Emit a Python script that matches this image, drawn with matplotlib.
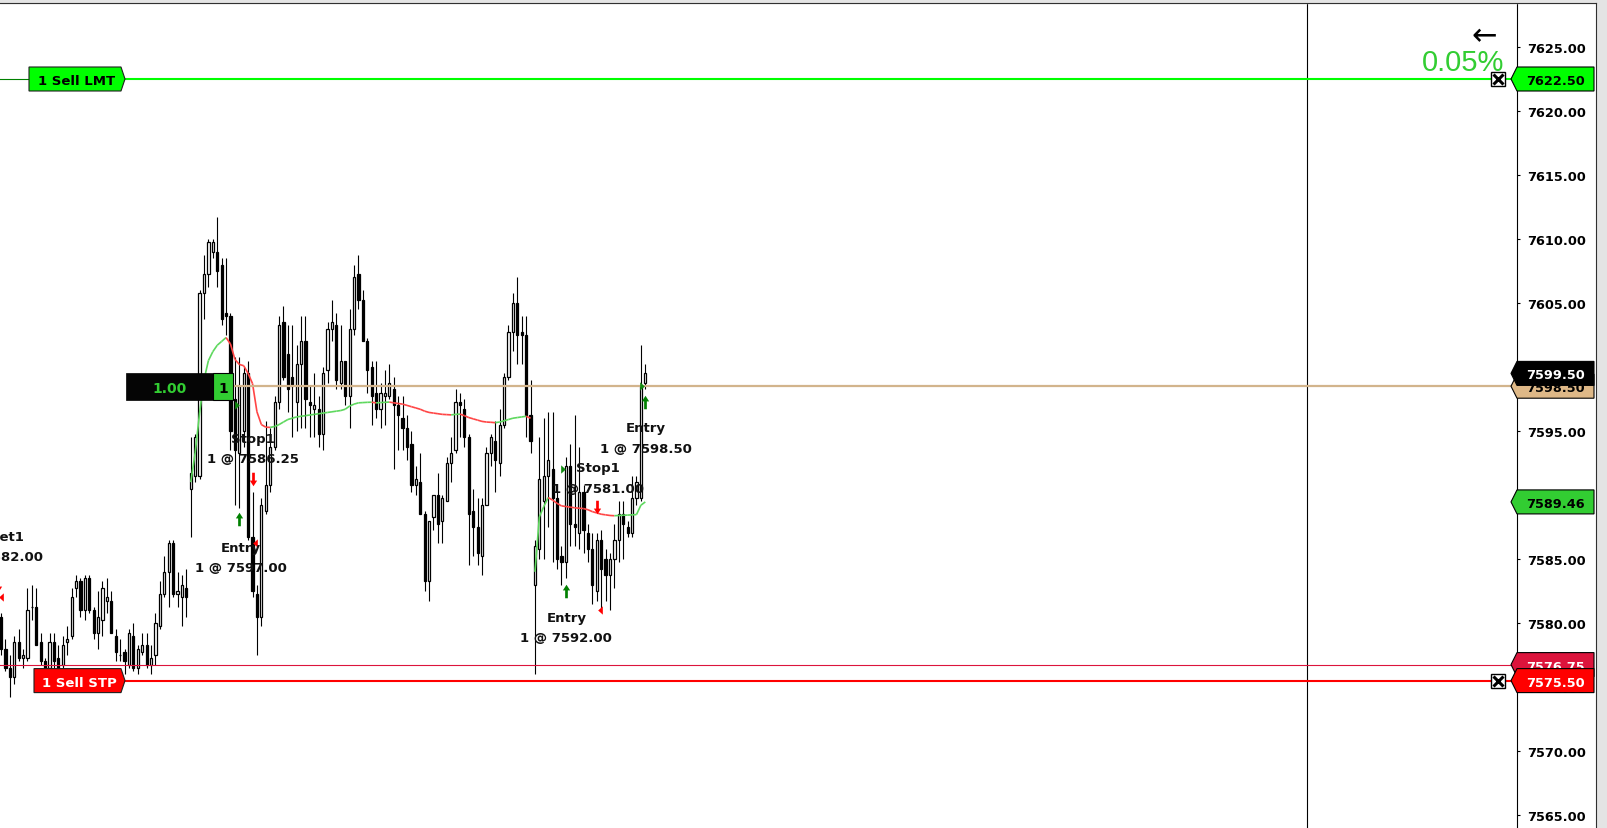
import matplotlib
matplotlib.use("Agg")
import matplotlib.pyplot as plt
import matplotlib.transforms as mtransforms
from matplotlib.collections import LineCollection
from matplotlib.patches import Polygon, Rectangle
from matplotlib.lines import Line2D
import numpy as np

# ======================= DATA ==========================
opens = [
    7580.5, 7578.0, 7576.5, 7575.75, 7578.5, 7577.25, 7577.25, 7581.25, 7581.25, 7578.5,
    7577.0, 7576.5, 7578.5, 7577.25, 7576.75, 7578.5, 7579.0, 7582.75, 7583.25, 7581.0,
    7583.5, 7581.0, 7579.25, 7580.25, 7581.75, 7581.75, 7579.0, 7577.5, 7577.75, 7576.75,
    7579.0, 7576.5, 7577.75, 7578.25, 7576.75, 7577.5, 7579.75, 7582.25, 7584.0, 7586.25,
    7582.25, 7582.0, 7582.75, 7590.5, 7591.5, 7591.5, 7605.75, 7607.25, 7609.0, 7609.0,
    7608.0, 7604.25, 7604.0, 7597.5, 7593.25, 7595.0, 7599.5, 7586.75, 7582.25, 7580.5,
    7588.75, 7590.75, 7593.75, 7597.25, 7603.5, 7601.0, 7599.25, 7597.25, 7600.25, 7602.0,
    7597.25, 7596.75, 7596.75, 7594.75, 7599.75, 7603.0, 7603.25, 7598.75, 7600.5, 7597.75,
    7603.0, 7607.25, 7605.25, 7602.0, 7600.0, 7598.0, 7596.75, 7597.75, 7597.75, 7598.25,
    7597.0, 7596.0, 7595.25, 7594.0, 7590.75, 7591.0, 7588.5, 7583.25, 7588.25, 7590.0,
    7588.0, 7589.5, 7592.5, 7593.5, 7597.25, 7596.75, 7594.5, 7588.75, 7587.5, 7585.25,
    7589.25, 7593.25, 7594.25, 7592.5, 7595.5, 7599.25, 7602.75, 7605.0, 7602.75, 7602.5,
    7596.25, 7583.0, 7585.75, 7589.5, 7591.5, 7592.0, 7589.75, 7585.25, 7584.75, 7592.25,
    7587.75, 7587.0, 7590.25, 7587.0, 7585.75, 7582.5, 7586.5, 7585.0, 7583.75, 7585.0,
    7586.5, 7588.5, 7587.5, 7587.0, 7589.75, 7589.75, 7598.75,
]
highs = [
    7580.75, 7578.75, 7577.5, 7579.0, 7579.5, 7578.0, 7582.75, 7583.0, 7582.75, 7579.25,
    7577.25, 7579.25, 7579.25, 7578.25, 7579.0, 7579.75, 7582.75, 7583.75, 7583.5, 7583.75,
    7583.75, 7581.25, 7582.5, 7583.25, 7583.5, 7582.5, 7579.5, 7578.75, 7578.0, 7579.5,
    7580.0, 7578.25, 7579.25, 7579.25, 7578.25, 7580.75, 7583.25, 7585.25, 7586.5, 7586.5,
    7584.0, 7583.75, 7584.25, 7594.5, 7594.75, 7606.0, 7608.75, 7610.0, 7610.0, 7611.75,
    7608.5, 7608.5, 7604.25, 7600.75, 7600.75, 7600.0, 7600.5, 7590.25, 7583.0, 7589.75,
    7595.75, 7595.25, 7597.75, 7604.0, 7604.75, 7603.25, 7603.25, 7601.75, 7604.0, 7604.0,
    7598.5, 7599.5, 7597.75, 7600.0, 7603.5, 7605.25, 7604.25, 7603.25, 7600.5, 7604.5,
    7608.0, 7608.75, 7606.0, 7602.25, 7600.5, 7600.5, 7598.75, 7599.75, 7600.25, 7599.25,
    7597.75, 7597.75, 7596.25, 7595.0, 7592.25, 7593.25, 7588.75, 7588.0, 7590.0, 7591.75,
    7590.0, 7593.0, 7594.5, 7598.25, 7598.0, 7597.5, 7594.75, 7590.5, 7589.75, 7589.75,
    7593.75, 7594.75, 7595.75, 7596.75, 7599.5, 7603.25, 7605.75, 7607.0, 7604.0, 7604.0,
    7599.0, 7586.5, 7594.5, 7596.0, 7596.5, 7596.5, 7590.25, 7586.0, 7593.0, 7594.0,
    7596.25, 7593.75, 7590.75, 7587.75, 7587.0, 7587.0, 7587.25, 7585.75, 7585.5, 7587.75,
    7589.5, 7589.5, 7588.0, 7591.5, 7591.5, 7601.75, 7600.25,
]
lows = [
    7577.5, 7576.25, 7574.25, 7575.25, 7577.0, 7576.5, 7577.0, 7580.25, 7578.25, 7576.75,
    7576.25, 7576.25, 7576.5, 7576.25, 7576.5, 7577.5, 7578.75, 7582.0, 7580.5, 7580.25,
    7580.75, 7578.75, 7578.0, 7579.0, 7580.75, 7579.25, 7577.0, 7577.0, 7576.0, 7576.5,
    7576.25, 7576.0, 7577.5, 7576.5, 7576.0, 7576.75, 7579.5, 7582.0, 7581.25, 7582.0,
    7581.25, 7579.75, 7580.5, 7586.75, 7591.0, 7591.25, 7603.75, 7606.25, 7608.5, 7606.25,
    7603.25, 7602.5, 7593.5, 7589.25, 7589.0, 7593.75, 7586.5, 7582.0, 7577.5, 7579.75,
    7588.5, 7590.25, 7593.5, 7596.75, 7599.0, 7596.5, 7594.5, 7595.0, 7595.25, 7595.25,
    7594.5, 7594.5, 7593.75, 7593.5, 7598.75, 7602.0, 7598.25, 7598.25, 7597.0, 7595.25,
    7602.5, 7604.5, 7602.0, 7598.0, 7595.5, 7596.0, 7595.25, 7595.5, 7597.5, 7592.0,
    7593.5, 7593.5, 7592.75, 7590.25, 7590.0, 7588.5, 7582.5, 7581.75, 7587.25, 7586.25,
    7586.25, 7589.5, 7591.0, 7593.25, 7594.5, 7593.75, 7584.5, 7585.25, 7584.5, 7583.75,
    7589.25, 7592.25, 7590.25, 7591.5, 7595.25, 7599.0, 7601.25, 7600.25, 7600.25, 7594.5,
    7593.25, 7576.0, 7585.0, 7585.0, 7587.5, 7584.75, 7584.25, 7583.0, 7583.5, 7586.0,
    7586.0, 7585.75, 7585.5, 7584.75, 7581.5, 7581.75, 7581.0, 7581.75, 7581.0, 7582.75,
    7584.75, 7585.0, 7586.75, 7586.75, 7589.25, 7589.5, 7598.25,
]
closes = [
    7578.0, 7576.5, 7575.75, 7578.5, 7577.25, 7577.5, 7581.0, 7581.25, 7578.25, 7577.0,
    7576.5, 7578.5, 7577.0, 7576.5, 7578.25, 7578.75, 7582.0, 7583.25, 7581.0, 7583.5,
    7581.0, 7579.25, 7580.5, 7582.75, 7582.0, 7579.25, 7577.75, 7577.5, 7577.0, 7579.25,
    7576.5, 7578.0, 7578.25, 7576.75, 7577.25, 7580.0, 7582.25, 7584.0, 7586.25, 7582.25,
    7582.5, 7583.0, 7582.0, 7591.75, 7594.5, 7605.75, 7607.25, 7609.75, 7609.75, 7607.5,
    7603.75, 7604.0, 7595.0, 7593.5, 7598.5, 7599.5, 7586.75, 7582.5, 7580.5, 7589.25,
    7590.75, 7593.75, 7597.25, 7603.25, 7599.25, 7598.25, 7598.5, 7600.25, 7602.0, 7597.5,
    7597.0, 7597.0, 7594.75, 7599.5, 7603.0, 7603.5, 7599.0, 7600.5, 7597.75, 7603.0,
    7607.0, 7605.25, 7602.0, 7599.75, 7597.75, 7596.75, 7598.0, 7598.0, 7598.75, 7597.0,
    7596.25, 7595.25, 7593.75, 7590.75, 7591.25, 7588.5, 7583.25, 7588.0, 7590.0, 7587.75,
    7589.75, 7592.5, 7593.25, 7597.25, 7597.0, 7594.5, 7588.5, 7587.5, 7585.5, 7589.25,
    7593.25, 7594.5, 7592.75, 7595.5, 7599.25, 7602.75, 7605.0, 7602.5, 7602.5, 7596.25,
    7594.25, 7586.0, 7591.25, 7591.5, 7592.75, 7589.75, 7585.0, 7584.75, 7592.25, 7587.75,
    7587.5, 7590.25, 7587.25, 7585.75, 7583.0, 7586.5, 7584.25, 7583.75, 7585.0, 7586.5,
    7588.5, 7587.75, 7587.0, 7589.75, 7591.0, 7598.5, 7599.5,
]

# session VWAP (restarts at each session open)
vwap1_start = 43
vwap1 = [
    7591.0, 7593.3, 7596.4, 7599.0, 7600.5, 7601.2, 7601.7,
    7602.0, 7602.3, 7601.8, 7600.6, 7600.2, 7600.1, 7599.5, 7598.7, 7596.5, 7595.5,
    7595.3, 7595.28, 7595.35, 7595.5, 7595.7, 7595.9, 7596.0, 7596.1, 7596.15, 7596.2,
    7596.25, 7596.3, 7596.35, 7596.4, 7596.45, 7596.5, 7596.55, 7596.6, 7596.7, 7596.95,
    7597.1, 7597.2, 7597.22, 7597.24, 7597.25, 7597.2, 7597.22, 7597.24, 7597.26, 7597.2,
    7597.15, 7597.1, 7597.0, 7596.9, 7596.8, 7596.7, 7596.55, 7596.45, 7596.4, 7596.35,
    7596.3, 7596.28, 7596.26, 7596.3, 7596.32, 7596.2, 7596.05, 7595.95, 7595.85, 7595.75,
    7595.7, 7595.68, 7595.65, 7595.7, 7595.8, 7595.9, 7596.0, 7596.05, 7596.1, 7596.15,
    7596.0,
]
vwap2_start = 121
vwap2 = [
    7584.0, 7588.3, 7589.1, 7589.8, 7589.6, 7589.35, 7589.15, 7589.1, 7589.05, 7589.0,
    7588.97, 7588.94, 7588.85, 7588.7, 7588.6, 7588.5, 7588.45, 7588.4, 7588.38, 7588.4,
    7588.42, 7588.43, 7588.45, 7588.47, 7589.2, 7589.46,
]

y_ticks = [7565.0, 7570.0, 7575.0, 7580.0, 7585.0, 7590.0, 7595.0,
           7600.0, 7605.0, 7610.0, 7615.0, 7620.0, 7625.0]

# price markers on the axis, drawn in this order
tag_prices = [7622.50, 7598.50, 7599.50, 7589.46, 7576.75, 7575.50]
tag_faces = ['#00FF00', '#DEB887', '#000000', '#32CD32', '#DC143C', '#FF0000']
tag_text_colors = ['black', 'black', 'white', 'black', 'white', 'white']

limit_price = 7622.50      # 1 Sell LMT
stop_price = 7575.50       # 1 Sell STP
stop_line2 = 7576.75
position_price = 7598.50
position_qty = "1.00"
session_break_bar = 296
pct_text = "0.05%"

# trade executions
entry_arrow_bars = [54, 128, 146]
entry_arrow_prices = [7588.1, 7582.5, 7597.3]
exit_arrow_bars = [-0.75, 57, 135]
exit_arrow_prices = [7583.0, 7591.25, 7589.05]
entry_fill_bars = [53.4, 127.4, 145.3]
entry_fill_prices = [7597.00, 7592.00, 7598.50]
exit_fill_bars = [-0.1, 57.6, 135.7]
exit_fill_prices = [7582.00, 7586.25, 7581.00]

label_bars = [-1.0, 57.1, 54.3, 128.1, 135.3, 146.2]
label_names = ['Target1', 'Stop1', 'Entry', 'Entry', 'Stop1', 'Entry']
label_fills = ['1 @ 7582.00', '1 @ 7586.25', '1 @ 7597.00',
               '1 @ 7592.00', '1 @ 7581.00', '1 @ 7598.50']
label_name_prices = [7586.88, 7594.57, 7586.04, 7580.55, 7592.23, 7595.39]
label_fill_prices = [7585.30, 7592.97, 7584.49, 7578.95, 7590.66, 7593.75]

# ======================= LAYOUT ==========================
FIG_W, FIG_H = 1608, 829
AX_W = 1517            # pixel x of the price axis line
TOP = 4                # pixel y of the top border
BAR_PX = 4.413         # pixel spacing between bars
PX_PER_PT = 12.8       # pixels per price point

def px(x):
    """ pixel x -> axes fraction """
    return x / AX_W

fig = plt.figure(figsize=(FIG_W / 100, FIG_H / 100), dpi=100, facecolor='white')
ax = fig.add_axes([0, 0, AX_W / FIG_W, (FIG_H - TOP) / FIG_H])
ax.set_facecolor('white')

ax.set_xlim((0 - 1) / BAR_PX, (AX_W - 1) / BAR_PX)
ax.set_ylim(7625 - (FIG_H - 48) / PX_PER_PT, 7625 + (48 - TOP) / PX_PER_PT)

trans = mtransforms.blended_transform_factory(ax.transAxes, ax.transData)
bold = dict(fontfamily='DejaVu Sans', fontweight='bold')

# --- candles ---
idx = np.arange(len(opens))
o = np.array(opens)
c = np.array(closes)
ax.vlines(idx, lows, highs, color='black', lw=0.8, zorder=2)
body_bottom = np.minimum(o, c)
body_h = np.abs(c - o)
body_col = ['white' if cc >= oo else 'black' for oo, cc in zip(o, c)]
ax.bar(idx, body_h, bottom=body_bottom, width=0.5, color=body_col,
       edgecolor='black', linewidth=0.9, zorder=3)

# --- VWAP, green when rising, red when falling ---
for start, vals in [(vwap1_start, vwap1), (vwap2_start, vwap2)]:
    xs = np.arange(start, start + len(vals))
    pts = np.column_stack([xs, vals])
    segs = [pts[k:k + 2] for k in range(len(pts) - 1)]
    cols = ['#5ED85E' if vals[k + 1] >= vals[k] else '#FF4545' for k in range(len(vals) - 1)]
    ax.add_collection(LineCollection(segs, colors=cols, linewidths=1.2, zorder=4))

# --- order / position lines ---
ax.axvline(session_break_bar, color='black', lw=0.8, zorder=1)
ax.axhline(limit_price, xmin=0, xmax=px(29), color='#008000', lw=0.8, zorder=5)
ax.axhline(limit_price, xmin=px(125), xmax=1, color='#00FF00', lw=1.5, zorder=5)
ax.axhline(stop_line2, color='#DC143C', lw=0.8, zorder=5)
ax.axhline(stop_price, xmin=px(125), xmax=1, color='#FF0000', lw=1.5, zorder=5)
ax.axhline(position_price, xmin=px(233), xmax=1, color='#D2B48C', lw=1.6, zorder=5)

# --- order tags on the left ---
h = 12 / PX_PER_PT
for price, label, face, tcol, x0 in [(limit_price, '1 Sell LMT', '#00FF00', 'black', 29),
                                     (stop_price, '1 Sell STP', '#FF0000', 'white', 34)]:
    verts = [(px(x0), price + h), (px(121), price + h), (px(125), price),
             (px(121), price - h), (px(x0), price - h)]
    ax.add_patch(Polygon(verts, closed=True, transform=trans, facecolor=face,
                         edgecolor='#202020', lw=0.8, zorder=7))
    ax.text(px((x0 + 121) / 2 + 2), price, label, transform=trans, ha='center',
            va='center_baseline', color=tcol, fontsize=9.5, zorder=8, **bold)

# --- position badge ---
bh = 13.7 / PX_PER_PT
ax.add_patch(Rectangle((px(126), position_price - bh), px(213) - px(126), 2 * bh,
                       transform=trans, facecolor='#050505', edgecolor='black', lw=0.5, zorder=7))
ax.add_patch(Rectangle((px(213), position_price - bh), px(233) - px(213), 2 * bh,
                       transform=trans, facecolor='#32CD32', edgecolor='black', lw=0.8, zorder=7))
ax.text(px(170), position_price, position_qty, transform=trans, ha='center',
        va='center_baseline', color='#32CD32', fontsize=10, zorder=8, **bold)
ax.text(px(223), position_price, "1", transform=trans, ha='center',
        va='center_baseline', color='black', fontsize=10, zorder=8, **bold)

# --- close buttons on the order lines ---
for price in [limit_price, stop_price]:
    ax.plot([px(1498)], [price], marker='s', ms=10.5, mfc='white', mec='black', mew=1,
            transform=trans, clip_on=False, zorder=9)
    ax.plot([px(1498)], [price], marker='x', ms=6.5, mec='black', mew=2.2,
            transform=trans, clip_on=False, zorder=10)

ax.text(px(1504), 7625 - (71.5 - 48) / PX_PER_PT, pct_text, transform=trans, ha='right',
        va='baseline', color='#32CD32', fontsize=21, fontfamily='Liberation Sans', zorder=9)
ax.text(px(1484), 7625 + (48 - 34) / PX_PER_PT, '\u2190', transform=trans, ha='center',
        va='center_baseline', color='black', fontsize=22, fontfamily='DejaVu Sans', zorder=9)

# --- executions ---
up_arrow = [(0, 0.5), (-0.27, 0.08), (-0.1, 0.08), (-0.1, -0.5), (0.1, -0.5), (0.1, 0.08), (0.27, 0.08)]
down_arrow = [(x, -y) for x, y in up_arrow]
ax.scatter(entry_arrow_bars, entry_arrow_prices, marker=up_arrow, s=13.5 ** 2 * 0.52,
           color='#008000', zorder=9, linewidths=0)
ax.scatter(exit_arrow_bars, exit_arrow_prices, marker=down_arrow, s=13.5 ** 2 * 0.52,
           color='#FF0000', zorder=9, linewidths=0)
right_tri = [(-0.28, 0.5), (0.28, 0), (-0.28, -0.5)]
left_tri = [(0.28, 0.5), (-0.28, 0), (0.28, -0.5)]
ax.scatter(entry_fill_bars, entry_fill_prices, marker=right_tri, s=6.0 ** 2,
           color='#108A10', zorder=9, linewidths=0)
ax.scatter(exit_fill_bars, exit_fill_prices, marker=left_tri, s=6.0 ** 2,
           color='#FF0000', zorder=9, linewidths=0)

for xb, name, fill, yn, yf in zip(label_bars, label_names, label_fills,
                                  label_name_prices, label_fill_prices):
    ax.text(xb, yn, name, ha='center', va='center_baseline', fontsize=9.5,
            color='#111111', zorder=11, clip_on=False, **bold)
    ax.text(xb, yf, fill, ha='center', va='center_baseline', fontsize=9.5,
            color='#111111', zorder=11, clip_on=False, **bold)

# --- price axis ---
for s in ['left', 'top', 'bottom']:
    ax.spines[s].set_visible(False)
ax.spines['right'].set_color('black')
ax.spines['right'].set_linewidth(0.8)
ax.set_xticks([])
ax.yaxis.tick_right()
ax.set_yticks(y_ticks)
ax.set_yticklabels([f"{t:.2f}" for t in y_ticks], fontsize=9.3, fontweight='bold')
ax.tick_params(axis='y', length=2.5, width=0.8, pad=4.5, colors='black')

for price, face, tcol, z in zip(tag_prices, tag_faces, tag_text_colors, range(len(tag_prices))):
    verts = [(px(1511), price), (px(1517), price + h), (px(1594), price + h),
             (px(1594), price - h), (px(1517), price - h)]
    ax.add_patch(Polygon(verts, closed=True, transform=trans, facecolor=face,
                         edgecolor='black', lw=0.8, clip_on=False, zorder=12 + z))
    ax.text(px(1555.5), price, f"{price:.2f}", transform=trans, ha='center',
            va='center_baseline', color=tcol, fontsize=9.3, clip_on=False,
            zorder=12.5 + z, **bold)

# --- window frame ---
fig.patches.append(Rectangle((0, (FIG_H - TOP) / FIG_H), 1, TOP / FIG_H,
                             transform=fig.transFigure, color='#E4E4E4', zorder=0))
fig.patches.append(Rectangle((1597 / FIG_W, 0), 11 / FIG_W, 1,
                             transform=fig.transFigure, color='#E4E4E4', zorder=0))
fig.add_artist(Line2D([0, 1596.5 / FIG_W], [(FIG_H - TOP + 0.5) / FIG_H] * 2,
                      color='#303030', lw=0.8, transform=fig.transFigure))
fig.add_artist(Line2D([1596.5 / FIG_W] * 2, [0, (FIG_H - TOP + 0.5) / FIG_H],
                      color='#303030', lw=0.8, transform=fig.transFigure))

fig.savefig('out.png', dpi=100, facecolor='white')
print("saved out.png")
